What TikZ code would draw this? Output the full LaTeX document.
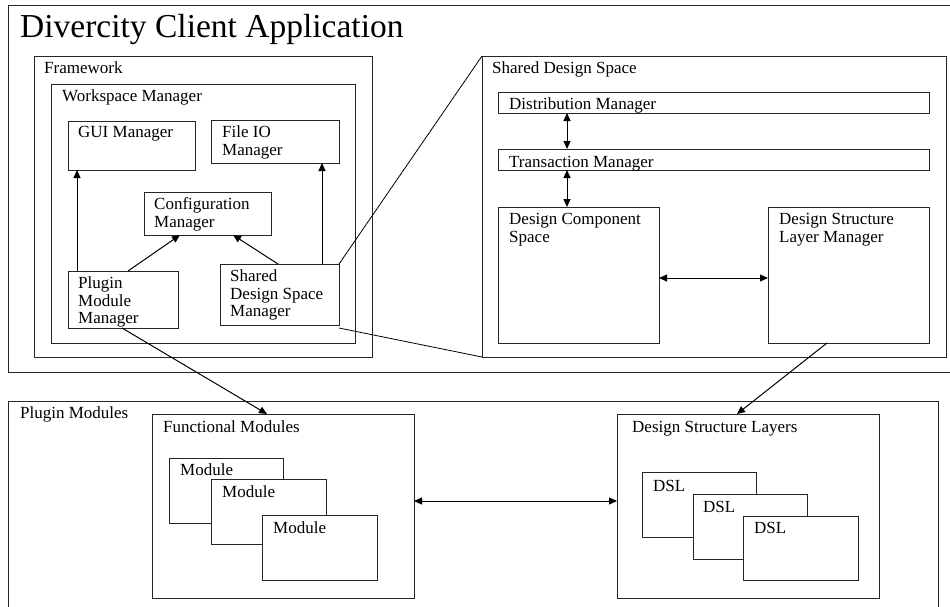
\documentclass[tikz,border=0pt]{standalone}
\usepackage{fontspec}
\setmainfont{Liberation Serif}
\usetikzlibrary{arrows.meta,calc}
\begin{document}
\begin{tikzpicture}[x=1pt,y=-1pt,
  box/.style={draw=black!85,line width=1pt,inner sep=0pt,outer sep=0pt,anchor=north west,rectangle},
  wbox/.style={box,fill=white},
  lbl/.style={anchor=base west,inner sep=0pt,font=\fontsize{17}{19}\selectfont},
  ttl/.style={anchor=base west,inner sep=0pt,font=\fontsize{33.5}{38}\selectfont},
  arr/.style={draw=black,line width=1pt,-{Triangle[length=8pt,width=7pt]}},
  darr/.style={draw=black,line width=1pt,{Triangle[length=8pt,width=7pt]}-{Triangle[length=8pt,width=7pt]}},
  ln/.style={draw=black,line width=0.8pt}]
\useasboundingbox[fill=white] (0,0) rectangle (950,606);

% outer application box (right side beyond page)
\node[box,minimum width=960pt,minimum height=367pt] (app) at (8,5) {};
\node[ttl] (apptitle) at (20,37) {Divercity Client Application};

% Framework
\node[box,minimum width=338pt,minimum height=301pt] (fw) at (34,56) {};
\node[lbl] (fwl) at (44,73) {Framework};
\node[box,minimum width=304pt,minimum height=259pt] (wm) at (51,84) {};
\node[lbl] (wml) at (62,101.5) {Workspace Manager};

\node[wbox,minimum width=127pt,minimum height=49pt] (gui) at (68,121) {};
\node[lbl] (guil) at (78,137.5) {GUI Manager};
\node[wbox,minimum width=128pt,minimum height=43pt] (fio) at (211,120) {};
\node[lbl] (fiol1) at (222,137.5) {File IO};
\node[lbl] (fiol2) at (222,155) {Manager};
\node[wbox,minimum width=127pt,minimum height=43pt] (cfg) at (144,192) {};
\node[lbl] (cfgl1) at (154,209) {Configuration};
\node[lbl] (cfgl2) at (154,227) {Manager};
\node[wbox,minimum width=110pt,minimum height=57pt] (pmm) at (68,271) {};
\node[lbl] (pmml1) at (78,288) {Plugin};
\node[lbl] (pmml2) at (78,306) {Module};
\node[lbl] (pmml3) at (78,323) {Manager};
\node[wbox,minimum width=119pt,minimum height=61pt] (sdsm) at (220,264) {};
\node[lbl] (sdsml1) at (230,281) {Shared};
\node[lbl] (sdsml2) at (230,299) {Design Space};
\node[lbl] (sdsml3) at (230,316) {Manager};

% Shared design space
\node[box,minimum width=464pt,minimum height=301pt] (sds) at (482,56) {};
\node[lbl] (sdsl) at (492,73) {Shared Design Space};
\node[wbox,minimum width=431pt,minimum height=21pt] (dm) at (498,92) {};
\node[lbl] (dml) at (509,109) {Distribution Manager};
\node[wbox,minimum width=431pt,minimum height=21pt] (tm) at (498,149) {};
\node[lbl] (tml) at (509,167) {Transaction Manager};
\node[wbox,minimum width=161pt,minimum height=136pt] (dcs) at (498,207) {};
\node[lbl] (dcsl1) at (509,224) {Design Component};
\node[lbl] (dcsl2) at (509,242) {Space};
\node[wbox,minimum width=161pt,minimum height=136pt] (dslm) at (768,207) {};
\node[lbl] (dslml1) at (779,224) {Design Structure};
\node[lbl] (dslml2) at (779,242) {Layer Manager};

% Plugin modules (bottom beyond page)
\node[box,minimum width=930pt,minimum height=220pt] (pm) at (8,401) {};
\node[lbl] (pml) at (20,418) {Plugin Modules};
\node[box,minimum width=262pt,minimum height=184pt] (fm) at (152,414) {};
\node[lbl] (fml) at (163,432) {Functional Modules};
\node[wbox,minimum width=114pt,minimum height=65pt] (m1) at (169,458) {};
\node[lbl] (m1l) at (180,475) {Module};
\node[wbox,minimum width=115pt,minimum height=65pt] (m2) at (211,479) {};
\node[lbl] (m2l) at (222,497) {Module};
\node[wbox,minimum width=115pt,minimum height=65pt] (m3) at (262,515) {};
\node[lbl] (m3l) at (273,533) {Module};

\node[box,minimum width=262pt,minimum height=184pt] (dsls) at (617,414) {};
\node[lbl] (dslsl) at (632,432) {Design Structure Layers};
\node[wbox,minimum width=114pt,minimum height=65pt] (d1) at (642,472) {};
\node[lbl] (d1l) at (653,491) {DSL};
\node[wbox,minimum width=114pt,minimum height=65pt] (d2) at (693,494) {};
\node[lbl] (d2l) at (703,512) {DSL};
\node[wbox,minimum width=115pt,minimum height=64pt] (d3) at (743,516) {};
\node[lbl] (d3l) at (754,533) {DSL};

% connectors
\draw[arr] ($(pmm.north west)+(9,0)$) -- ($(gui.south west)+(9,0)$);
\draw[arr] ($(sdsm.north east)+(-17,0)$) -- ($(fio.south east)+(-17,0)$);
\draw[arr] ($(pmm.north west)+(60,0)$) -- ($(cfg.south west)+(36,0)$);
\draw[arr] ($(sdsm.north west)+(58,0)$) -- ($(cfg.south west)+(89,0)$);
\draw[ln] (sdsm.north east) -- (sds.north west);
\draw[ln] ($(sdsm.south east)+(0,3)$) -- (sds.south west);
\draw[darr] ($(dm.south west)+(69,0)$) -- ($(tm.north west)+(69,0)$);
\draw[darr] ($(tm.south west)+(69,0)$) -- ($(dcs.north west)+(69,0)$);
\draw[darr] ($(dcs.east)+(0,3)$) -- ($(dcs.east -| dslm.west)+(0,3)$);
\draw[arr] ($(pmm.south west)+(54,0)$) -- ($(fm.north west)+(115,0)$);
\draw[arr] ($(dslm.south west)+(59,0)$) -- ($(dsls.north west)+(120,0)$);
\draw[darr] ($(fm.east)+(0,-5)$) -- ($(fm.east -| dsls.west)+(0,-5)$);
\end{tikzpicture}
\end{document}
